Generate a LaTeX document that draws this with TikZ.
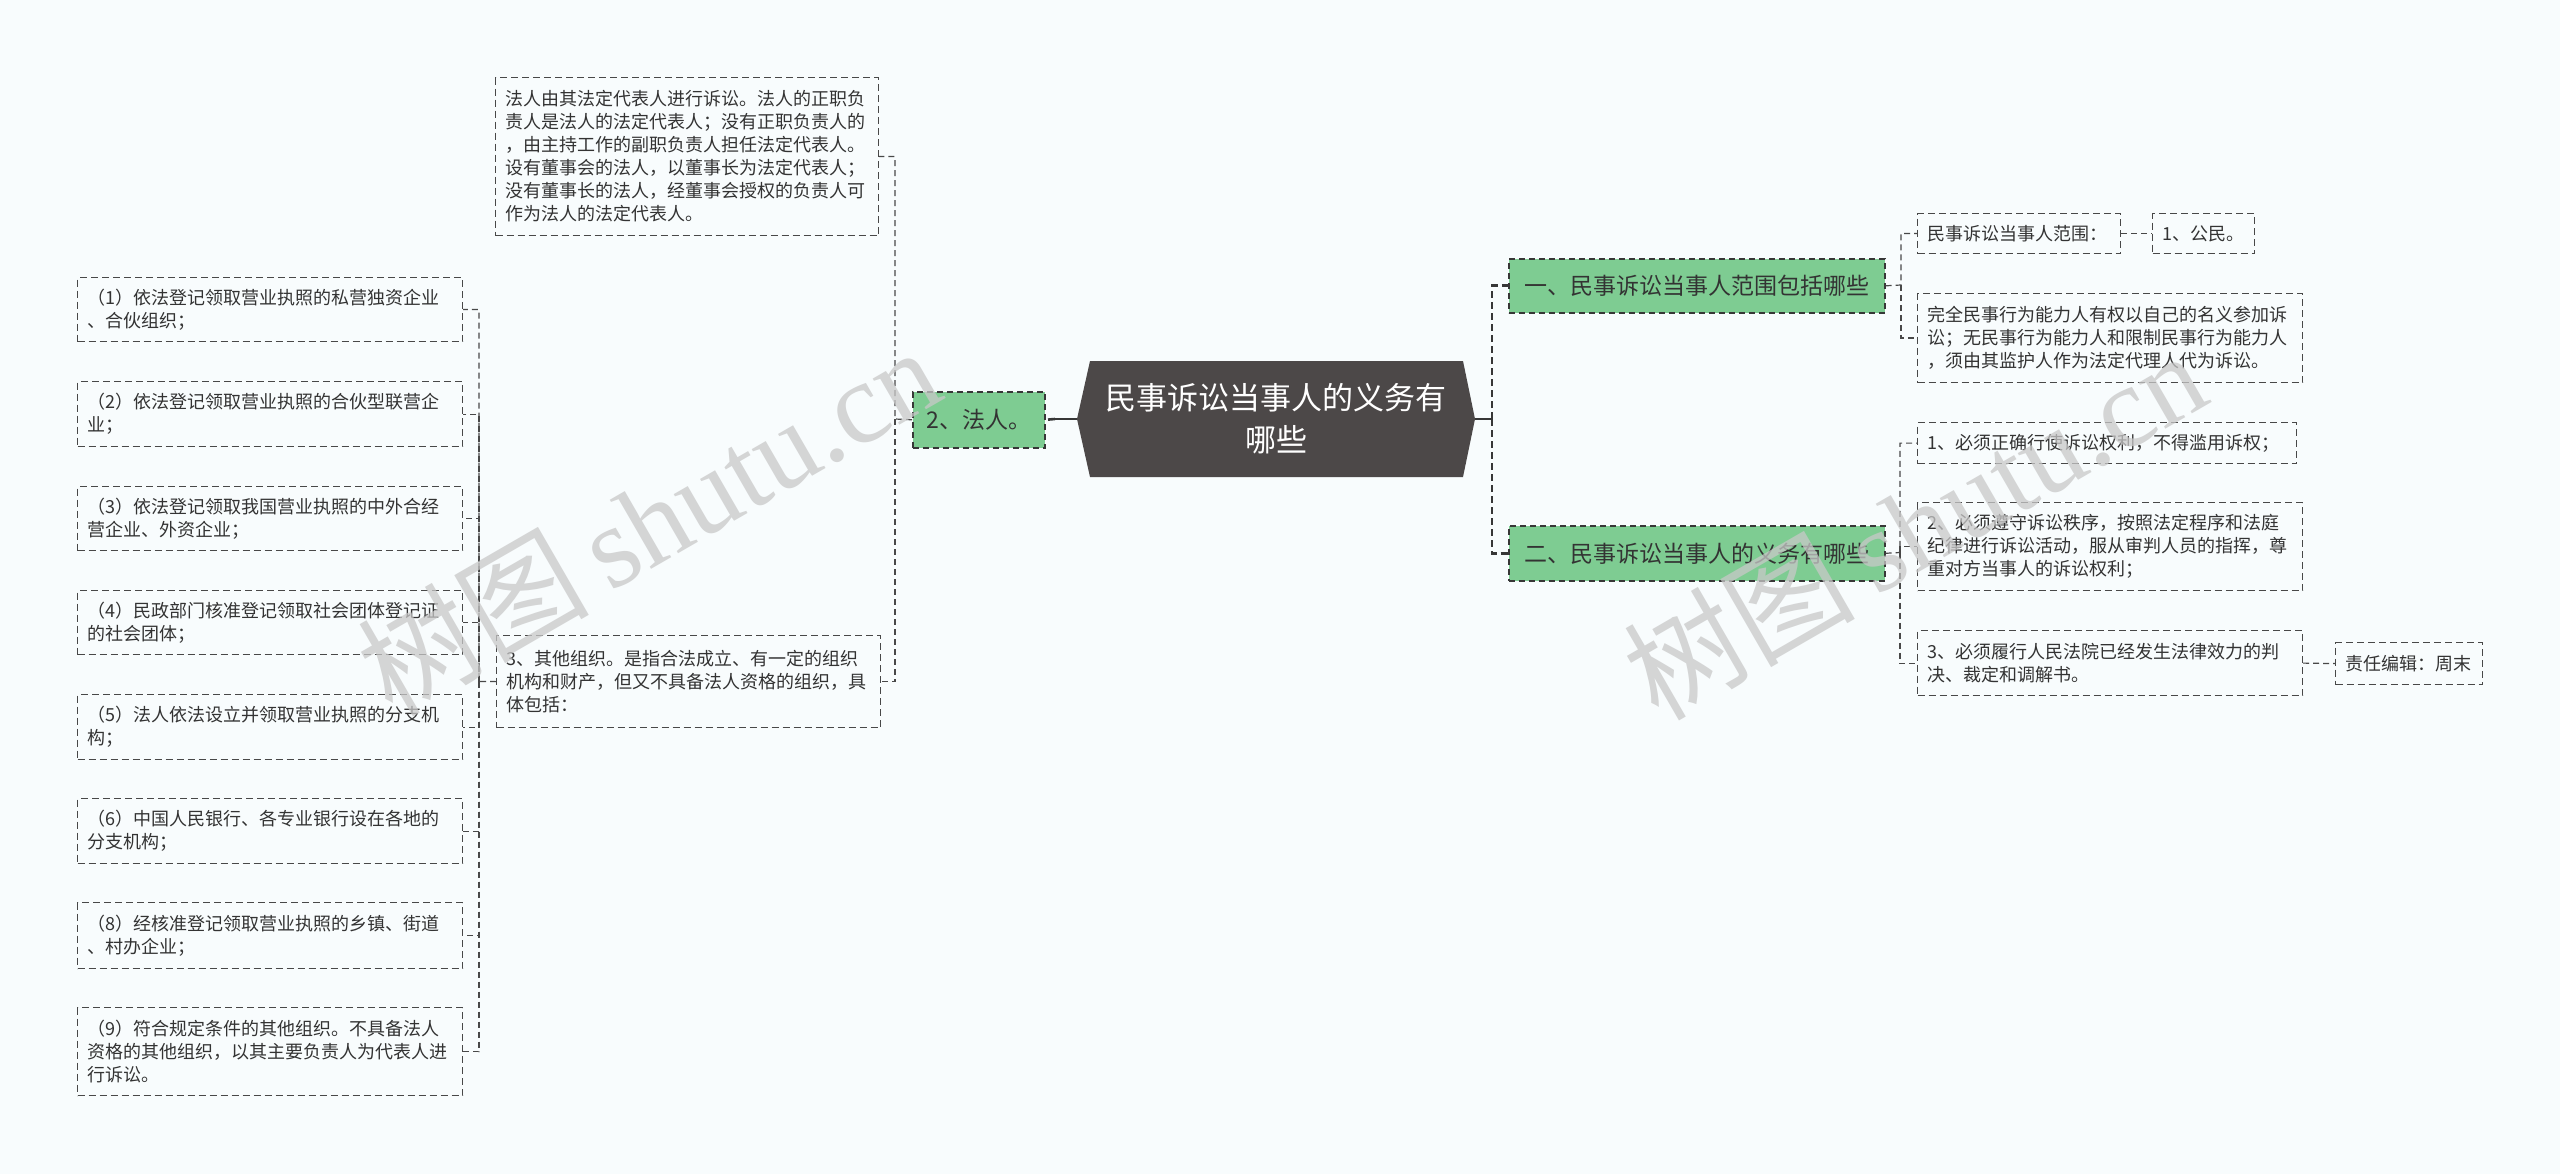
\documentclass[tikz,border=0pt]{standalone}
\usepackage{fontspec}
\setmainfont{Noto Sans CJK SC}
\newfontfamily\wmlat{Liberation Serif}
\newfontfamily\wmcjk{Noto Sans CJK SC}
\usetikzlibrary{calc}
\definecolor{bgc}{RGB}{248,252,253}
\definecolor{tcol}{RGB}{51,51,51}
\definecolor{bline}{RGB}{72,72,72}
\definecolor{gline}{RGB}{55,55,55}
\definecolor{gfill}{RGB}{126,204,146}
\definecolor{cfill}{RGB}{76,72,72}
\definecolor{wmc}{RGB}{200,200,200}
\begin{document}
\begin{tikzpicture}[x=1pt,y=-1pt,
  box/.style={draw=bline, line width=1.2pt, dash pattern=on 7pt off 4pt, text=tcol,
    font=\fontsize{18pt}{23pt}\selectfont, inner xsep=10pt, inner ysep=0pt,
    anchor=north west, align=left},
  gbox/.style={draw=gline, line width=1.6pt, dash pattern=on 6pt off 4pt, fill=gfill, text=tcol,
    font=\fontsize{23pt}{28pt}\selectfont, inner sep=0pt, anchor=north west, align=center},
  conn/.style={draw=bline, line width=1.2pt, dash pattern=on 6pt off 4pt},
  thickdash/.style={draw=gline, line width=2.6pt, dash pattern=on 7pt off 4pt},
  thicksolid/.style={draw=gline, line width=2.6pt},
  wm/.style={text=wmc, opacity=0.75, rotate=30, inner sep=0pt}
]
\useasboundingbox (0,0) rectangle (2560,1174);
\fill[bgc] (0,0) rectangle (2560,1174);

% central hexagon
\fill[cfill] (1077,419) -- (1090,361) -- (1463,361) -- (1475,419) -- (1463,477) -- (1090,477) -- cycle;
\node[text=white, font=\fontsize{31pt}{42pt}\selectfont, align=center, inner sep=0pt,
  minimum width=398pt, minimum height=116pt] (c) at (1276,419) {民事诉讼当事人的义务有\\哪些};

% level 1
\node[gbox, minimum width=132pt, minimum height=56pt] (fr) at (912,391) {2、法人。};
\node[gbox, minimum width=376pt, minimum height=54pt] (n1) at (1508,258) {一、民事诉讼当事人范围包括哪些};
\node[gbox, minimum width=376pt, minimum height=55pt] (n2) at (1508,525) {二、民事诉讼当事人的义务有哪些};

% middle column
\node[box, minimum width=383pt, text width=363pt, minimum height=158pt] (q1) at (495,77)
 {法人由其法定代表人进行诉讼。法人的正职负\\责人是法人的法定代表人；没有正职负责人的\\，由主持工作的副职负责人担任法定代表人。\\设有董事会的法人，以董事长为法定代表人；\\没有董事长的法人，经董事会授权的负责人可\\作为法人的法定代表人。};
\node[box, minimum width=384pt, text width=364pt, minimum height=92pt] (q3) at (496,635)
 {3、其他组织。是指合法成立、有一定的组织\\机构和财产，但又不具备法人资格的组织，具\\体包括：};

% left column
\node[box, minimum width=385pt, text width=365pt, minimum height=64pt] (l1) at (77,277) {（1）依法登记领取营业执照的私营独资企业\\、合伙组织；};
\node[box, minimum width=385pt, text width=365pt, minimum height=65pt] (l2) at (77,381) {（2）依法登记领取营业执照的合伙型联营企\\业；};
\node[box, minimum width=385pt, text width=365pt, minimum height=64pt] (l3) at (77,486) {（3）依法登记领取我国营业执照的中外合经\\营企业、外资企业；};
\node[box, minimum width=385pt, text width=365pt, minimum height=64pt] (l4) at (77,590) {（4）民政部门核准登记领取社会团体登记证\\的社会团体；};
\node[box, minimum width=385pt, text width=365pt, minimum height=65pt] (l5) at (77,694) {（5）法人依法设立并领取营业执照的分支机\\构；};
\node[box, minimum width=385pt, text width=365pt, minimum height=65pt] (l6) at (77,798) {（6）中国人民银行、各专业银行设在各地的\\分支机构；};
\node[box, minimum width=385pt, text width=365pt, minimum height=66pt] (l8) at (77,902) {（8）经核准登记领取营业执照的乡镇、街道\\、村办企业；};
\node[box, minimum width=385pt, text width=365pt, minimum height=88pt] (l9) at (77,1007) {（9）符合规定条件的其他组织。不具备法人\\资格的其他组织，以其主要负责人为代表人进\\行诉讼。};

% right columns
\node[box, minimum width=203pt, text width=183pt, minimum height=40pt] (r1) at (1917,213) {民事诉讼当事人范围：};
\node[box, minimum width=102pt, text width=82pt, minimum height=40pt] (r1b) at (2152,213) {1、公民。};
\node[box, minimum width=385pt, text width=365pt, minimum height=89pt] (r2) at (1917,293) {完全民事行为能力人有权以自己的名义参加诉\\讼；无民事行为能力人和限制民事行为能力人\\，须由其监护人作为法定代理人代为诉讼。};
\node[box, minimum width=379pt, text width=359pt, minimum height=41pt] (s1) at (1917,422) {1、必须正确行使诉讼权利，不得滥用诉权；};
\node[box, minimum width=385pt, text width=365pt, minimum height=88pt] (s2) at (1917,502) {2、必须遵守诉讼秩序，按照法定程序和法庭\\纪律进行诉讼活动，服从审判人员的指挥，尊\\重对方当事人的诉讼权利；};
\node[box, minimum width=385pt, text width=365pt, minimum height=65pt] (s3) at (1917,630) {3、必须履行人民法院已经发生法律效力的判\\决、裁定和调解书。};
\node[box, minimum width=147pt, text width=127pt, minimum height=42pt] (s4) at (2335,642) {责任编辑：周末};

% spine coordinates
\coordinate (cl) at (1055,419);
\coordinate (sr) at (1492,419);
\coordinate (sm) at (895,419);
\coordinate (sl) at (479,681.5);
\coordinate (sa) at (1901,285);
\coordinate (sb) at (1900,552.5);

% thick connectors
\draw[thicksolid] (c.west) -- (cl);
\draw[thickdash] (cl) -- (fr.east);
\draw[thicksolid] (c.east) -- (sr);
\draw[thickdash] (sr) |- (n1.west);
\draw[thickdash] (sr) |- (n2.west);

% thin connectors
\draw[conn] (fr.west) -- (sm) |- (q1.east);
\draw[conn] (sm) |- (q3.east);
\draw[conn] (q3.west) -- (sl) |- (l1.east);
\foreach \n in {l2,l3,l4,l5,l6,l8,l9} { \draw[conn] (sl) |- (\n.east); }
\draw[conn] (n1.east) -- (sa) |- (r1.west);
\draw[conn] (sa) |- (r2.west);
\draw[conn] (r1.east) -- (r1b.west);
\draw[conn] (n2.east) -- (sb) |- (s1.west);
\draw[conn] (sb) |- (s2.west);
\draw[conn] (sb) |- (s3.west);
\draw[conn] (s3.east) -- (s4.west);

% watermarks
\node[wm] (wm1) at (648,520) {\fontsize{116pt}{120pt}\selectfont\wmcjk 树图\,\wmlat shutu.cn};
\node[wm] (wm2) at (1914,524) {\fontsize{116pt}{120pt}\selectfont\wmcjk 树图\,\wmlat shutu.cn};
\end{tikzpicture}
\end{document}
